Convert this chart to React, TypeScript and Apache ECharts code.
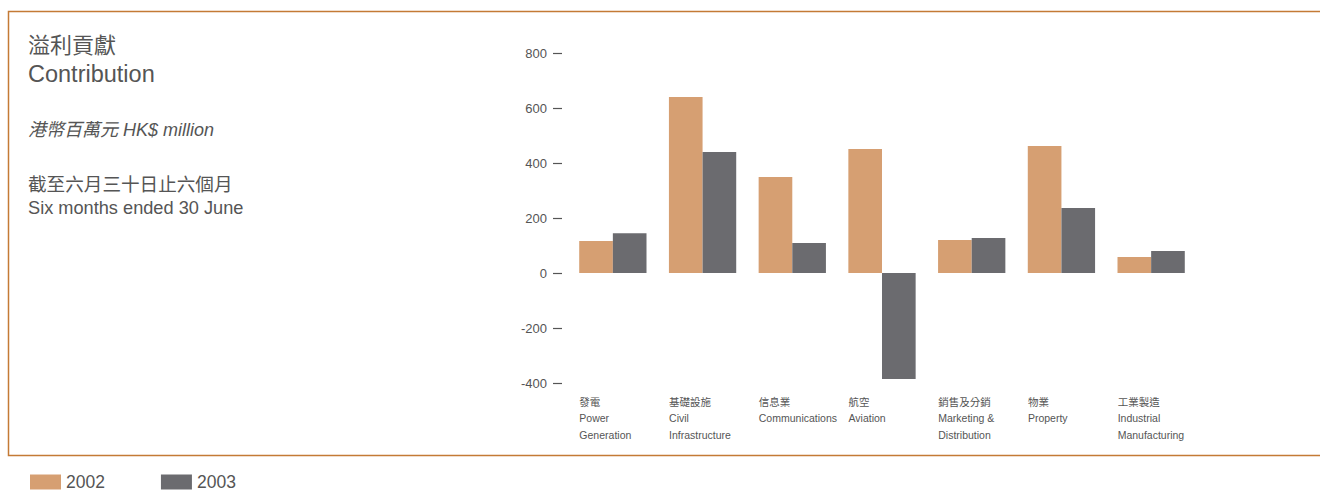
import React, { useEffect, useRef } from "react";
import * as echarts from "echarts";

const categories = [
  "發電\nPower\nGeneration",
  "基礎設施\nCivil\nInfrastructure",
  "信息業\nCommunications",
  "航空\nAviation",
  "銷售及分銷\nMarketing &\nDistribution",
  "物業\nProperty",
  "工業製造\nIndustrial\nManufacturing",
];
const values2002 = [116, 640, 349, 451, 120, 462, 58];
const values2003 = [145, 440, 109, -385, 127, 236, 80];
const seriesNames = ["2002", "2003"];
const yTicks = { min: -400, max: 800, interval: 200 };

const ORANGE = "#d69f72";
const GRAY = "#6b6b6f";
const TEXT = "#555555";
const BORDER = "#c47a35";
const FONT = "'Liberation Sans', Arial, Helvetica, sans-serif";
const CJK = "'Liberation Sans', 'Noto Sans CJK TC', sans-serif";

export default function App() {
  const ref = useRef<HTMLDivElement>(null);
  useEffect(() => {
    if (!ref.current) return;
    const chart = echarts.init(ref.current, undefined, { renderer: "svg" });
    chart.setOption({
      animation: false,
      backgroundColor: "#ffffff",
      textStyle: { fontFamily: FONT },
      grid: { left: 568, right: 124, top: 53, bottom: 108 },
      legend: {
        left: 30,
        top: 473,
        padding: 0,
        itemWidth: 31,
        itemHeight: 15,
        itemGap: 56,
        icon: "rect",
        data: seriesNames,
        textStyle: { color: TEXT, fontSize: 17.5, lineHeight: 16, fontFamily: FONT },
      },
      xAxis: {
        type: "category",
        data: categories,
        axisLine: { show: false, onZero: false },
        axisTick: { show: false },
        axisLabel: {
          interval: 0,
          margin: 11,
          width: 67,
          align: "center",
          overflow: "none",
          formatter: (v: string) => `{a|${v.split("\n").join("}\n{a|")}}`,
          rich: {
            a: {
              align: "left",
              fontSize: 10.5,
              lineHeight: 16.3,
              color: TEXT,
              fontFamily: CJK,
            },
          },
        },
      },
      yAxis: {
        type: "value",
        min: yTicks.min,
        max: yTicks.max,
        interval: yTicks.interval,
        offset: 6,
        axisLine: { show: false },
        axisTick: { show: true, length: 9, lineStyle: { color: TEXT, width: 1.2 } },
        splitLine: { show: false },
        axisLabel: { margin: 15, color: TEXT, fontSize: 13, fontFamily: FONT },
      },
      series: [
        {
          name: seriesNames[0],
          type: "bar",
          data: values2002,
          barGap: "0%",
          barCategoryGap: "25%",
          itemStyle: { color: ORANGE },
        },
        {
          name: seriesNames[1],
          type: "bar",
          data: values2003,
          barGap: "0%",
          barCategoryGap: "25%",
          itemStyle: { color: GRAY },
        },
      ],
      graphic: [
        {
          type: "rect",
          shape: { x: 8.5, y: 11.5, width: 1330, height: 444 },
          style: { fill: "none", stroke: BORDER, lineWidth: 1.5 },
          silent: true,
        },
        {
          type: "text",
          left: 28,
          top: 34,
          style: { text: "溢利貢獻", fill: TEXT, fontSize: 22, fontFamily: CJK },
        },
        {
          type: "text",
          left: 28,
          top: 62,
          style: { text: "Contribution", fill: TEXT, fontSize: 23.5, fontFamily: FONT },
        },
        {
          type: "text",
          left: 28,
          top: 121,
          style: { text: "港幣百萬元 HK$ million", fill: TEXT, fontSize: 18, fontStyle: "italic", fontFamily: CJK },
        },
        {
          type: "text",
          left: 28,
          top: 175,
          style: { text: "截至六月三十日止六個月", fill: TEXT, fontSize: 18.6, fontFamily: CJK },
        },
        {
          type: "text",
          left: 28,
          top: 199,
          style: { text: "Six months ended 30 June", fill: TEXT, fontSize: 18.2, fontFamily: FONT },
        },
      ],
    });
    return () => chart.dispose();
  }, []);
  return (
    <div
      ref={ref}
      style={{ position: "fixed", left: 0, top: 0, width: 1320, height: 491 }}
    />
  );
}
